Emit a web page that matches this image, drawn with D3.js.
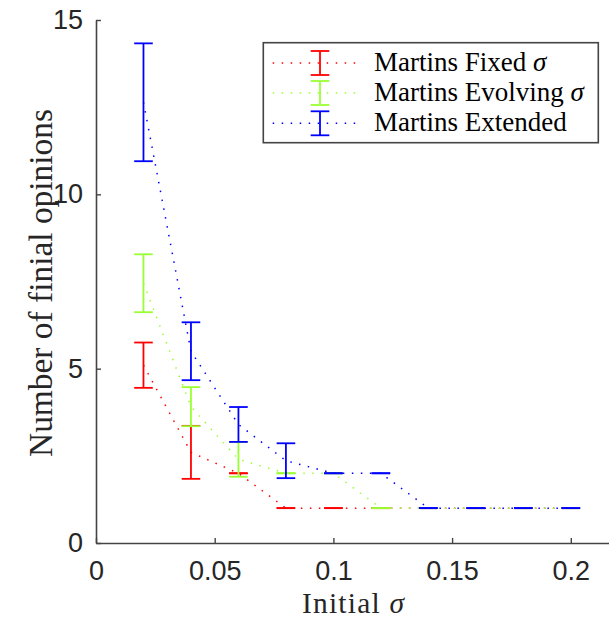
<!DOCTYPE html>
<html><head><meta charset="utf-8">
<script src="https://cdn.jsdelivr.net/npm/d3@7/dist/d3.min.js"></script>
<style>body{margin:0;background:#fff}svg{display:block}</style>
</head><body>
<svg id="c" width="609" height="619"></svg>
<script>
const sigma = [0.02,0.04,0.06,0.08,0.10,0.12,0.14,0.16,0.18,0.20];
const fixedMean    = [5.1, 2.6, 2, 1, 1, 1, 1, 1, 1, 1];
const fixedErr     = [0.65, 0.76, 0, 0, 0, 0, 0, 0, 0, 0];
const evolvingMean = [7.45, 3.91, 2.4, 2, 2, 1, 1, 1, 1, 1];
const evolvingErr  = [0.83, 0.56, 0.5, 0, 0, 0, 0, 0, 0, 0];
const extendedMean = [12.64, 5.5, 3.4, 2.36, 2, 2, 1, 1, 1, 1];
const extendedErr  = [1.69, 0.83, 0.5, 0.5, 0, 0, 0, 0, 0, 0];
const seriesNames  = ["Martins Fixed", "Martins Evolving", "Martins Extended"];
const seriesSigma  = [true, true, false];
const colors       = ["#ff0000", "#99ff33", "#0000ff"];
const xTicks = [0, 0.05, 0.1, 0.15, 0.2];
const xTickLabels = ["0", "0.05", "0.1", "0.15", "0.2"];
const yTicks = [0, 5, 10, 15];
const yTickLabels = ["0", "5", "10", "15"];

const series = [
  {name: seriesNames[0], mean: fixedMean, err: fixedErr},
  {name: seriesNames[1], mean: evolvingMean, err: evolvingErr},
  {name: seriesNames[2], mean: extendedMean, err: extendedErr}
];

const svg = d3.select("#c");
const x = d3.scaleLinear().domain([0, 0.22]).range([96, 96 + 0.22 * 2374]);
const y = d3.scaleLinear().domain([0, 15]).range([543, 20]);
const axisColor = "#262626";
const capW = 9.3;

// axes
const gx = svg.append("g").attr("transform", "translate(0,543)")
  .call(d3.axisBottom(x).tickValues(xTicks).tickFormat((d,i)=>xTickLabels[i])
        .tickSizeInner(-5).tickSizeOuter(0).tickPadding(18));
const gy = svg.append("g").attr("transform", "translate(96,0)")
  .call(d3.axisLeft(y).tickValues(yTicks).tickFormat((d,i)=>yTickLabels[i])
        .tickSizeInner(-5).tickSizeOuter(0).tickPadding(13));
[gx, gy].forEach(g => {
  g.select(".domain").attr("stroke", "#444").attr("stroke-width", 1.6);
  g.selectAll(".tick line").attr("stroke", "#444").attr("stroke-width", 1.4);
  g.selectAll(".tick text").attr("fill", axisColor)
    .style("font-family", "'Liberation Sans', Arial, sans-serif").style("font-size", "27px");
});

// series: dotted lines then error bars
series.forEach((s, k) => {
  const pts = sigma.map((v, i) => [v, s.mean[i], s.err[i]]);
  const g = svg.append("g");
  g.append("path").datum(pts)
    .attr("d", d3.line().x(d => x(d[0])).y(d => y(d[1])))
    .attr("fill", "none").attr("stroke", colors[k]).attr("stroke-width", 1.5)
    .attr("stroke-dasharray", "1.5 7.5");
  const eb = g.selectAll("g.eb").data(pts).join("g").attr("class", "eb")
    .attr("stroke", colors[k]).attr("stroke-width", 1.8);
  eb.append("line").attr("x1", d => x(d[0])).attr("x2", d => x(d[0]))
    .attr("y1", d => y(d[1] - d[2])).attr("y2", d => y(d[1] + d[2]));
  eb.append("line").attr("x1", d => x(d[0]) - capW).attr("x2", d => x(d[0]) + capW)
    .attr("y1", d => y(d[1] + d[2])).attr("y2", d => y(d[1] + d[2]));
  eb.append("line").attr("x1", d => x(d[0]) - capW).attr("x2", d => x(d[0]) + capW)
    .attr("y1", d => y(d[1] - d[2])).attr("y2", d => y(d[1] - d[2]));
});

const serif = "'Liberation Serif', 'Times New Roman', serif";
function fitText(t, targetW, base) {
  t.style("font-size", base + "px");
  const w = t.node().getComputedTextLength();
  t.style("font-size", (base * targetW / w).toFixed(2) + "px");
}

// legend
const lg = svg.append("g");
lg.append("rect").attr("x", 263.3).attr("y", 42.7).attr("width", 335).attr("height", 100)
  .attr("fill", "#fff").attr("stroke", "#444").attr("stroke-width", 1.6);
const rowY = [63, 93, 123.3];
const legTexts = [];
series.forEach((s, k) => {
  const yy = rowY[k];
  lg.append("line").attr("x1", 272.7).attr("x2", 359.3).attr("y1", yy).attr("y2", yy)
    .attr("stroke", colors[k]).attr("stroke-width", 1.5).attr("stroke-dasharray", "1.5 7.5");
  const e = lg.append("g").attr("stroke", colors[k]).attr("stroke-width", 1.8);
  e.append("line").attr("x1", 320).attr("x2", 320).attr("y1", yy - 12).attr("y2", yy + 12);
  e.append("line").attr("x1", 320 - capW).attr("x2", 320 + capW).attr("y1", yy - 12).attr("y2", yy - 12);
  e.append("line").attr("x1", 320 - capW).attr("x2", 320 + capW).attr("y1", yy + 12).attr("y2", yy + 12);
  const t = lg.append("text").attr("x", 374).attr("y", yy + 7.5)
    .style("font-family", serif).attr("fill", "#000");
  t.append("tspan").text(s.name + (seriesSigma[k] ? " " : ""));
  if (seriesSigma[k]) t.append("tspan").style("font-style", "italic").text("σ");
  legTexts.push(t);
});
legTexts[1].style("font-size", "22px");
const lw = legTexts[1].node().getComputedTextLength();
const lfs = (22 * 210 / lw).toFixed(2);
legTexts.forEach(t => t.style("font-size", lfs + "px"));

// axis labels
const xl = svg.append("text").attr("x", 302).attr("y", 612.5)
  .attr("textLength", 102).attr("lengthAdjust", "spacing")
  .style("font-family", serif).style("font-size", "29.5px").attr("fill", axisColor);
xl.append("tspan").text("Initial ");
xl.append("tspan").style("font-style", "italic").text("σ");

const yl = svg.append("text").attr("transform", "translate(52,283) rotate(-90)")
  .attr("text-anchor", "middle").style("font-family", serif).attr("fill", axisColor)
  .text("Number of finial opinions");
fitText(yl, 348, 28);
</script>
</body></html>
